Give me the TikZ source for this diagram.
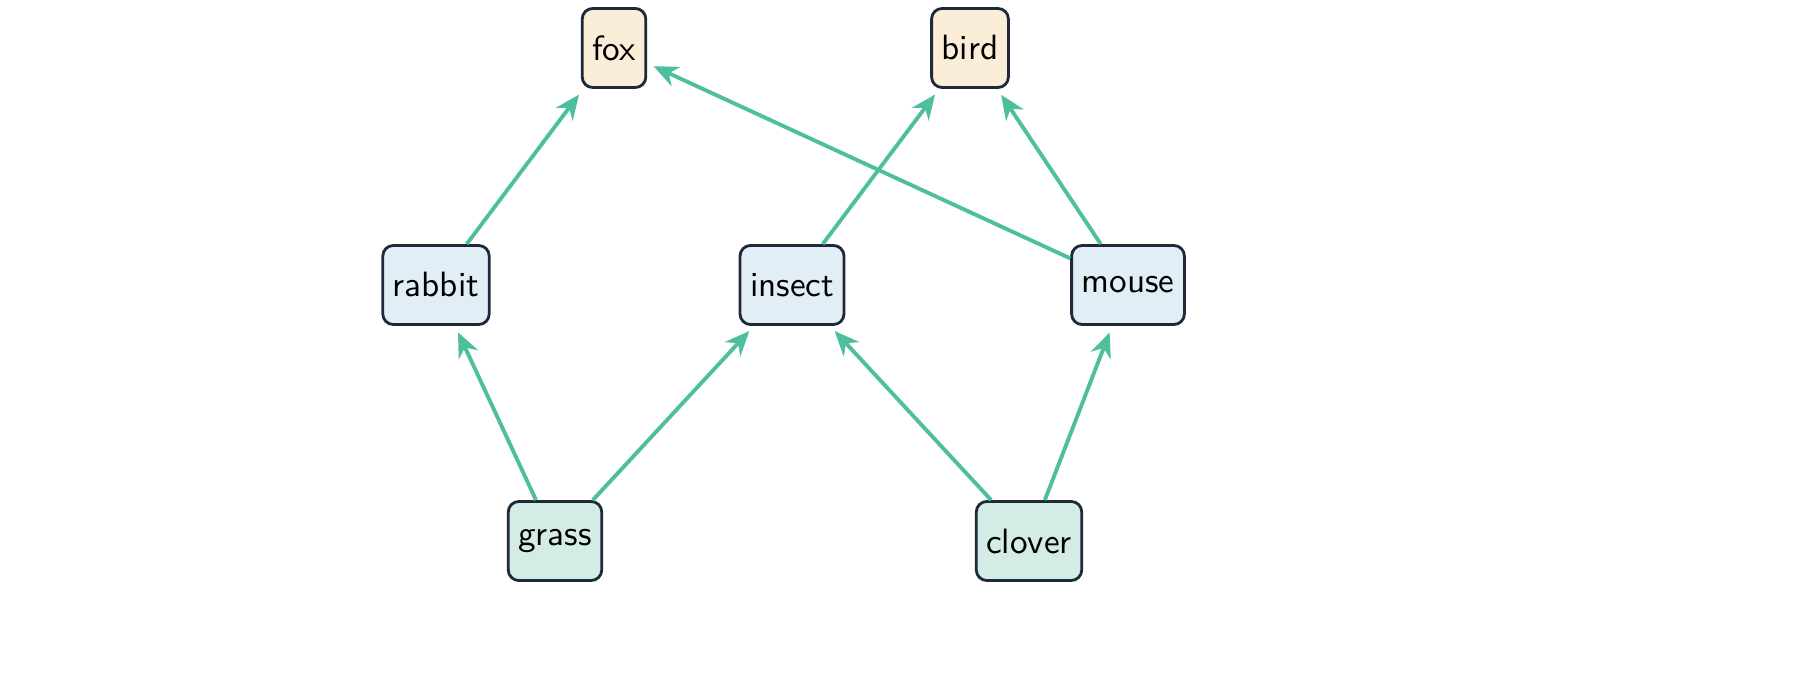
\documentclass[tikz,border=0pt]{standalone}
\usetikzlibrary{arrows.meta}
\definecolor{edgegreen}{HTML}{4DBF9E}
\definecolor{topfill}{HTML}{FBEED9}
\definecolor{midfill}{HTML}{E1EEF5}
\definecolor{lowfill}{HTML}{D3ECE5}
\definecolor{boxline}{HTML}{1E2A3A}
\begin{document}
\begin{tikzpicture}[x=0.01cm,y=-0.01cm,
  box/.style={draw=boxline,line width=0.8pt,rounded corners=3pt,minimum height=0.79cm,minimum width=0.63cm,inner xsep=0.1cm,font=\sffamily\fontsize{10}{12}\selectfont},
  eat/.style={draw=edgegreen,line width=1.1pt,-{Stealth[length=7pt,width=6pt]},shorten >=2pt}]
\useasboundingbox (0,0) rectangle (1800,677);

\node[box,fill=topfill] (fox) at (614,48) {fox};
\node[box,fill=topfill] (bird) at (970,48) {bird};

\node[box,fill=midfill] (rabbit) at (436,285) {rabbit};
\node[box,fill=midfill] (insect) at (792,285) {insect};
\node[box,fill=midfill,minimum width=1.12cm] (mouse) at (1128,285) {mouse};

\node[box,fill=lowfill] (grass) at (555,541) {grass};
\node[box,fill=lowfill] (clover) at (1029,541) {clover};

\draw[eat] (rabbit) -- (fox);
\draw[eat] (mouse) -- (fox);
\draw[eat] (insect) -- (bird);
\draw[eat] (mouse) -- (bird);

\draw[eat] (grass) -- (rabbit);
\draw[eat] (grass) -- (insect);
\draw[eat] (clover) -- (insect);
\draw[eat] (clover) -- (mouse);
\end{tikzpicture}
\end{document}
